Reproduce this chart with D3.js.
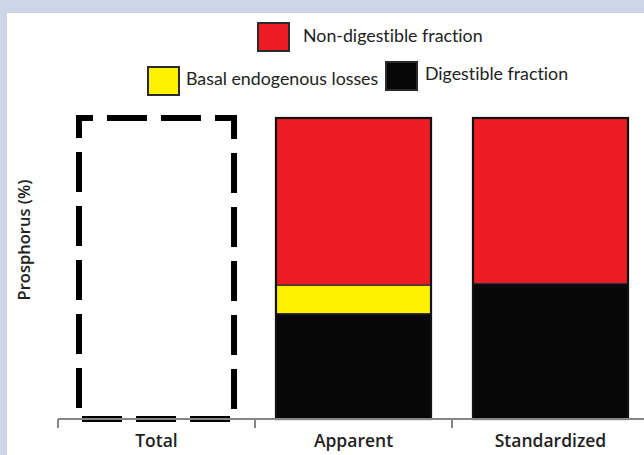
<!DOCTYPE html>
<html>
<head>
<meta charset="utf-8">
<script src="https://cdn.jsdelivr.net/npm/d3@7"></script>
<style>
  html, body { margin: 0; padding: 0; background: #cdd6e8; }
  svg { display: block; }
  text { font-variant-ligatures: none; }
</style>
</head>
<body>
<script>
// ---- data ----
const categories = ["Total", "Apparent", "Standardized"];
const totalPhosphorus = [100, null, null];
const digestible = [null, 35, 45];
const basalLosses = [null, 9.5, 0];
const nonDigestible = [null, 55.5, 55];
const seriesKeys = ["Digestible fraction", "Basal endogenous losses", "Non-digestible fraction"];
const seriesColors = ["#070707", "#fff200", "#ed1c24"];
const yLabel = "Prosphorus (%)";

const W = 644, H = 455;
const svg = d3.select("body").append("svg").attr("width", W).attr("height", H);

// panel
svg.append("rect").attr("x", 0).attr("y", 0).attr("width", W).attr("height", H).attr("fill", "#cdd6e8");
svg.append("rect").attr("x", 7).attr("y", 13).attr("width", W - 7).attr("height", H - 13).attr("fill", "#ffffff");

const baseY = 419, topY = 118;
const xBand = d3.scaleBand().domain(categories).range([58, 649]).padding(0);
const x = d3.scaleBand().domain(categories).range([58, 649]).paddingInner(0.213).paddingOuter(0.1065);
const y = d3.scaleLinear().domain([0, 100]).range([baseY, topY]);

// stacked data
const rows = categories.map((c, i) => ({
  cat: c,
  "Digestible fraction": digestible[i] || 0,
  "Basal endogenous losses": basalLosses[i] || 0,
  "Non-digestible fraction": nonDigestible[i] || 0
}));
const stacked = d3.stack().keys(seriesKeys)(rows);

// Total dashed outline
const totalRows = categories.map((c, i) => ({ cat: c, v: totalPhosphorus[i] })).filter(d => d.v != null);
svg.append("g").selectAll("rect").data(totalRows).join("rect")
  .attr("x", d => x(d.cat))
  .attr("y", d => y(d.v))
  .attr("width", x.bandwidth())
  .attr("height", d => y(0) - y(d.v))
  .attr("fill", "none")
  .attr("stroke", "#000")
  .attr("stroke-width", 6)
  .attr("stroke-dasharray", "40,14")
  .attr("stroke-dashoffset", 26);

// stacked bars
const gBars = svg.append("g");
stacked.forEach((s, si) => {
  gBars.append("g").selectAll("rect")
    .data(s.filter(d => d[1] - d[0] > 0))
    .join("rect")
    .attr("x", d => x(d.data.cat))
    .attr("y", d => y(d[1]))
    .attr("width", x.bandwidth())
    .attr("height", d => y(d[0]) - y(d[1]))
    .attr("fill", seriesColors[si])
    .attr("stroke", "#2b3040")
    .attr("stroke-width", 1.2);
});
// outer outline of stacked bars
const outlineRows = categories.map((c, i) => ({ cat: c, v: (digestible[i] || 0) + (basalLosses[i] || 0) + (nonDigestible[i] || 0) })).filter(d => d.v > 0);
gBars.append("g").selectAll("rect").data(outlineRows).join("rect")
  .attr("x", d => x(d.cat))
  .attr("y", d => y(d.v))
  .attr("width", x.bandwidth())
  .attr("height", d => y(0) - y(d.v))
  .attr("fill", "none")
  .attr("stroke", "#111")
  .attr("stroke-width", 2.2);

// x axis: baseline + boundary ticks
const axisG = svg.append("g");
axisG.append("line")
  .attr("x1", xBand.range()[0]).attr("x2", xBand.range()[1])
  .attr("y1", baseY).attr("y2", baseY)
  .attr("stroke", "#858585").attr("stroke-width", 2);
const bounds = categories.map(c => xBand(c)).concat([xBand.range()[1]]);
axisG.selectAll("line.tk").data(bounds).join("line")
  .attr("class", "tk")
  .attr("x1", d => d).attr("x2", d => d)
  .attr("y1", baseY).attr("y2", baseY + 9)
  .attr("stroke", "#858585").attr("stroke-width", 2);
axisG.selectAll("text").data(categories).join("text")
  .attr("x", d => xBand(d) + xBand.bandwidth() / 2)
  .attr("y", 447)
  .attr("text-anchor", "middle")
  .attr("font-family", "'Open Sans', sans-serif")
  .attr("font-weight", 600)
  .attr("font-size", 17.5)
  .attr("fill", "#222")
  .text(d => d);

// y label
svg.append("text")
  .attr("transform", "translate(30,240) rotate(-90)")
  .attr("text-anchor", "middle")
  .attr("font-family", "'Open Sans', sans-serif")
  .attr("font-weight", 600)
  .attr("font-size", 16.5)
  .attr("fill", "#222")
  .text(yLabel);

// legend
const legendPos = [
  { key: "Non-digestible fraction", sx: 258, sy: 23, tx: 303, ty: 42 },
  { key: "Basal endogenous losses", sx: 148, sy: 67, tx: 186, ty: 85 },
  { key: "Digestible fraction", sx: 386, sy: 62, tx: 425, ty: 80 }
];
const lg = svg.append("g");
legendPos.forEach(p => {
  const i = seriesKeys.indexOf(p.key);
  lg.append("rect").attr("x", p.sx).attr("y", p.sy).attr("width", 31).attr("height", 28)
    .attr("fill", seriesColors[i]).attr("stroke", "#2a2a2a").attr("stroke-width", 2);
  lg.append("text").attr("x", p.tx).attr("y", p.ty)
    .attr("font-family", "Lato, sans-serif").attr("font-size", 17.8)
    .attr("fill", "#222").text(p.key);
});
</script>
</body>
</html>
